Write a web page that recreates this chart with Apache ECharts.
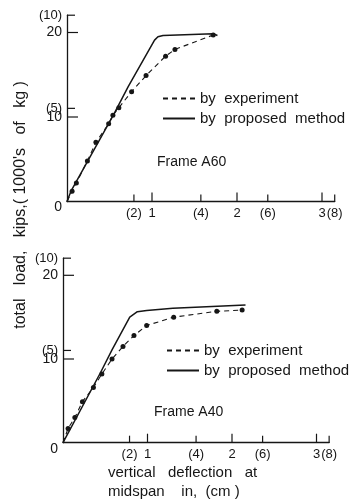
<!DOCTYPE html>
<html>
<head>
<meta charset="utf-8">
<script src="https://cdn.jsdelivr.net/npm/echarts@6/dist/echarts.min.js"></script>
<style>
  html, body { margin: 0; padding: 0; background: #fff; }
  #main { width: 352px; height: 500px; }
</style>
</head>
<body>
<div id="main"></div>
<script>
// Frame A60 - deflection (in) / load (kips)
var a60ExpX = [0, 0.06, 0.11, 0.24, 0.34, 0.49, 0.54, 0.61, 0.76, 0.93, 1.16, 1.27, 1.72];
var a60ExpY = [0, 1.2, 2.2, 4.8, 7.0, 9.2, 10.2, 11.1, 13.0, 14.9, 17.2, 18.0, 19.7];
var a60CalX = [0, 0.05, 0.55, 0.72, 1.03, 1.07, 1.13, 1.72, 1.77];
var a60CalY = [0, 1.3, 10.3, 13.6, 19.1, 19.5, 19.65, 19.85, 19.65];

// Frame A40
var a40ExpX = [0, 0.06, 0.14, 0.23, 0.36, 0.46, 0.58, 0.71, 0.84, 0.99, 1.31, 1.82, 2.12];
var a40ExpY = [0, 1.7, 3.0, 4.9, 6.6, 8.2, 10.0, 11.5, 12.8, 14.0, 15.0, 15.7, 15.85];
var a40CalX = [0, 0.44, 0.58, 0.79, 0.88, 0.99, 1.30, 2.16];
var a40CalY = [0, 8.3, 11.1, 15.0, 15.65, 15.8, 16.05, 16.45];

// axis ticks (inch / cm below, kips / 1000 kg at left)
var inchTicks = [1, 2, 3];
var cmTicks = [2, 4, 6, 8];
var kipTicks = [0, 10, 20];
var kgTicks = [5, 10];

var expName = 'by  experiment';
var calName = 'by  proposed  method';
var font = 'Liberation Sans';
var ink = '#161616';

function pairs(xs, ys, marks) {
  return xs.map(function (x, i) {
    var p = { value: [x, ys[i]] };
    if (marks && i === 0) p.symbolSize = 0;
    return p;
  });
}

var myChart = echarts.init(document.getElementById('main'));

// left, bottom, px per inch, px per kip
var frames = [
  { left: 67, bottom: 201.5, pxIn: 85, pxKip: 8.45 },
  { left: 63, bottom: 442.7, pxIn: 84.5, pxKip: 8.37 }
];

var grids = [], xAxes = [], yAxes = [], dataAxis = [], outerAxis = [];
var label = { color: ink, fontFamily: font, fontSize: 13, margin: 5 };

// one x and one y axis per grid, so axis index == grid index
function addGrid(g, x, y) {
  var i = grids.length;
  grids.push(g);
  x.gridIndex = i; y.gridIndex = i;
  xAxes.push(x); yAxes.push(y);
  return i;
}

frames.forEach(function (f) {
  var hIn = 20 * f.pxKip, hKg = 10 * 2.2046 * f.pxKip;
  var wIn = 3 * f.pxIn, wCm = 8 / 2.54 * f.pxIn;

  // data grid: 0..3 in, 0..20 kips
  dataAxis.push(addGrid(
    { left: f.left, top: f.bottom - hIn, width: wIn, height: hIn },
    {
      type: 'value', min: 0, max: 3, interval: 1,
      axisLine: { show: false }, axisTick: { show: false },
      axisLabel: Object.assign({}, label, { formatter: function (v) {
        return inchTicks.indexOf(v) >= 0 ? String(v) : '';
      } }),
      splitLine: { show: false }
    },
    {
      type: 'value', min: 0, max: 20, interval: 10,
      axisLine: { show: false }, axisTick: { show: false },
      axisLabel: Object.assign({}, label, { fontSize: 14,
        formatter: function (v) {
          if (v === 0) return '{z|0}';
          return kipTicks.indexOf(v) >= 0 ? String(v) : '';
        },
        rich: { z: { fontFamily: font, fontSize: 14, color: ink, padding: [12, 0, 0, 0] } }
      }),
      splitLine: { show: false }
    }
  ));

  // outer grid: 0..8 cm, 0..10 (1000 kg), carries the axis lines
  outerAxis.push(addGrid(
    { left: f.left, top: f.bottom - hKg, width: wCm, height: hKg },
    {
      type: 'value', min: 0, max: 8, interval: 2,
      axisLine: { show: true, onZero: false, lineStyle: { color: ink, width: 1.3 } },
      axisTick: { show: false },
      axisLabel: Object.assign({}, label, { formatter: function (v) {
        return cmTicks.indexOf(v) >= 0 ? '(' + v + ')' : '';
      } }),
      splitLine: { show: false }
    },
    {
      type: 'value', min: 0, max: 10, interval: 5,
      axisLine: { show: true, onZero: false, lineStyle: { color: ink, width: 1.3 } },
      axisTick: { show: false },
      axisLabel: Object.assign({}, label, { formatter: function (v) {
        return kgTicks.indexOf(v) >= 0 ? '(' + v + ')' : '';
      } }),
      splitLine: { show: false }
    }
  ));
});

// inside tick marks, placed by the axis scales (api.coord), fixed pixel length
function tickSeries(axisIdx, values, onX, len) {
  return {
    type: 'custom', xAxisIndex: axisIdx, yAxisIndex: axisIdx,
    silent: true, clip: false, z: 5,
    encode: { x: 0, y: 1 },
    data: values.map(function (v) { return onX ? [v, 0] : [0, v]; }),
    renderItem: function (params, api) {
      var p = api.coord([api.value(0), api.value(1)]);
      var x2 = onX ? p[0] : p[0] + len;
      var y2 = onX ? p[1] - len : p[1];
      return {
        type: 'line',
        shape: { x1: p[0], y1: p[1], x2: x2, y2: y2 },
        style: { stroke: ink, lineWidth: 1.2 }
      };
    }
  };
}

function expSeries(k, xs, ys) {
  return {
    name: expName, type: 'line', xAxisIndex: dataAxis[k], yAxisIndex: dataAxis[k],
    data: pairs(xs, ys, true), symbol: 'circle', symbolSize: 5,
    itemStyle: { color: ink }, lineStyle: { color: ink, width: 1.1, type: [5, 4] },
    animation: false, silent: true
  };
}
function calSeries(k, xs, ys) {
  return {
    name: calName, type: 'line', xAxisIndex: dataAxis[k], yAxisIndex: dataAxis[k],
    data: pairs(xs, ys, false), showSymbol: false, symbol: 'none',
    itemStyle: { color: ink }, lineStyle: { color: ink, width: 1.5 },
    animation: false, silent: true
  };
}

function legendAt(left, top) {
  return {
    left: left, top: top, orient: 'vertical', itemWidth: 32, itemHeight: 10, itemGap: 5,
    padding: 0, selectedMode: false,
    itemStyle: { opacity: 0 },
    textStyle: { color: ink, fontFamily: font, fontSize: 15 },
    data: [expName, calName]
  };
}

var series = [
  expSeries(0, a60ExpX, a60ExpY),
  calSeries(0, a60CalX, a60CalY),
  expSeries(1, a40ExpX, a40ExpY),
  calSeries(1, a40CalX, a40CalY)
];
[0, 1].forEach(function (k) {
  series.push(tickSeries(dataAxis[k], inchTicks, true, 9));
  series.push(tickSeries(outerAxis[k], cmTicks, true, 7));
  series.push(tickSeries(dataAxis[k], kipTicks.slice(1), false, 11));
  series.push(tickSeries(outerAxis[k], kgTicks, false, 8));
});

var option = {
  backgroundColor: '#fff',
  animation: false,
  grid: grids,
  xAxis: xAxes,
  yAxis: yAxes,
  legend: [legendAt(162, 91), legendAt(166, 343)],
  title: [
    { text: 'Frame A60', left: 157, top: 155, padding: 0,
      textStyle: { color: ink, fontFamily: font, fontSize: 14, fontWeight: 'normal' } },
    { text: 'Frame A40', left: 154, top: 405, padding: 0,
      textStyle: { color: ink, fontFamily: font, fontSize: 14, fontWeight: 'normal' } },
    { text: 'vertical   deflection   at\nmidspan    in,  (cm )', left: 108, top: 463, padding: 0,
      textStyle: { color: ink, fontFamily: font, fontSize: 15, fontWeight: 'normal', lineHeight: 19 } }
  ],
  graphic: [{
    type: 'text', x: 21, y: 205, rotation: Math.PI / 2,
    style: { text: 'total   load,   kips,( 1000\'s   of   kg )', fill: ink, font: '16px "Liberation Sans"',
      textAlign: 'center', textVerticalAlign: 'middle' }
  }],
  series: series
};
myChart.setOption(option);
</script>
</body>
</html>
